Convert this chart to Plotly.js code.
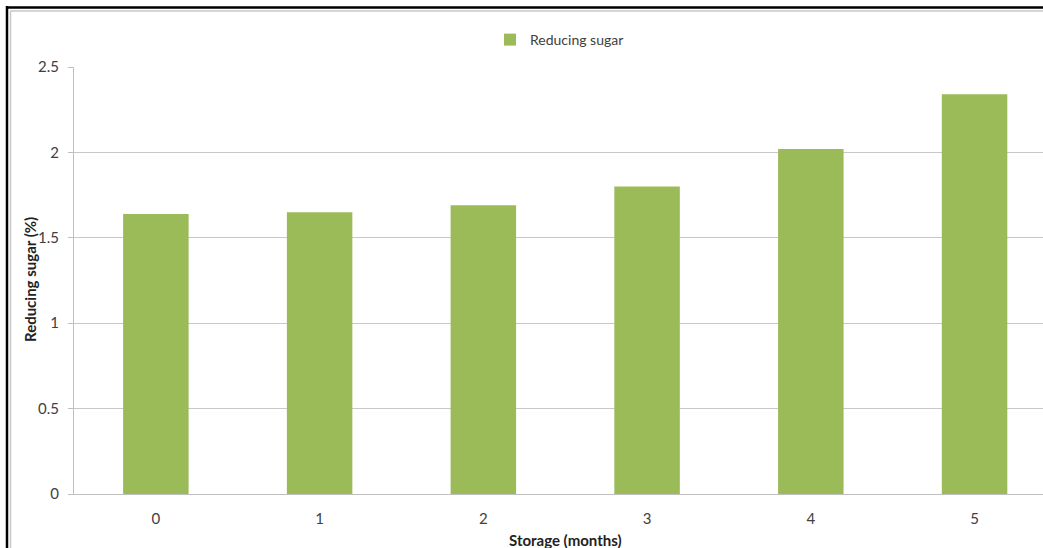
<!DOCTYPE html>
<html>
<head>
<meta charset="utf-8">
<script src="https://cdn.plot.ly/plotly-3.0.1.min.js"></script>
<style>
html,body{margin:0;padding:0;background:#fff;overflow:hidden;}
#chart{position:absolute;left:0;top:0;width:1043px;height:548px;overflow:hidden;}
</style>
</head>
<body>
<div id="chart"></div>
<script>
const months = ["0", "1", "2", "3", "4", "5"];
const reducingSugar = [1.64, 1.65, 1.69, 1.80, 2.02, 2.34];
const seriesName = "Reducing sugar";
const yTicks = [0, 0.5, 1, 1.5, 2, 2.5];
const yTickText = ["0", "0.5", "1", "1.5", "2", "2.5"];

const W = 1043, H = 548;
const mL = 74, mR = 0, mT = 67, mB = 54;
const pw = W - mL - mR, ph = H - mT - mB;
const px = p => (p - mL) / pw;
const py = p => (H - mB - p) / ph;

const font = "Lato, 'Open Sans', sans-serif";

const trace = {
  type: "bar",
  x: months.map(Number),
  y: reducingSugar,
  name: seriesName,
  width: 0.4,
  marker: {color: "#9BBB59"},
  showlegend: true,
  hoverinfo: "x+y"
};

const layout = {
  width: W, height: H,
  margin: {l: mL, r: mR, t: mT, b: mB, pad: 0},
  paper_bgcolor: "#fff",
  plot_bgcolor: "#fff",
  font: {family: font, size: 14, color: "#404040"},
  showlegend: true,
  legend: {
    orientation: "h",
    x: px(490), xanchor: "left",
    y: py(40), yanchor: "middle",
    font: {family: font, size: 14, color: "#404040"},
    bgcolor: "rgba(0,0,0,0)"
  },
  xaxis: {
    range: [-0.5, 5.418],
    tickvals: months.map(Number),
    ticktext: months,
    showgrid: false,
    zeroline: false,
    showline: true,
    linecolor: "#bfbfbf",
    linewidth: 1,
    ticks: "",
    ticklabelstandoff: 11,
    tickfont: {family: font, size: 15, color: "#404040"},
    fixedrange: true
  },
  yaxis: {
    range: [0, 2.5],
    tickvals: yTicks,
    ticktext: yTickText,
    showgrid: true,
    gridcolor: "#c8c8c8",
    gridwidth: 1,
    zeroline: false,
    showline: true,
    linecolor: "#bfbfbf",
    linewidth: 1,
    ticks: "outside",
    ticklen: 5,
    tickcolor: "#bfbfbf",
    ticklabelstandoff: 6,
    tickfont: {family: font, size: 15, color: "#404040"},
    fixedrange: true
  },
  annotations: [
    {
      text: "<b>Storage (months)</b>",
      xref: "x", x: 2.5,
      yref: "paper", y: py(540),
      xanchor: "center", yanchor: "middle",
      showarrow: false,
      font: {family: font, size: 15, color: "#222"}
    },
    {
      text: "<b>Reducing sugar (%)</b>",
      xref: "paper", x: px(30),
      yref: "paper", y: py(280),
      xanchor: "center", yanchor: "middle",
      textangle: -90,
      showarrow: false,
      font: {family: font, size: 15, color: "#222"}
    }
  ],
  shapes: [
    {type: "line", xref: "paper", yref: "paper", x0: px(6), x1: px(1043), y0: py(7.5), y1: py(7.5), line: {color: "#000", width: 2.5}},
    {type: "line", xref: "paper", yref: "paper", x0: px(7), x1: px(7), y0: py(6), y1: py(548), line: {color: "#000", width: 2.5}},
    {type: "line", xref: "paper", yref: "paper", x0: px(10), x1: px(1043), y0: py(11), y1: py(11), line: {color: "#c8c8c8", width: 1.5}},
    {type: "line", xref: "paper", yref: "paper", x0: px(10.5), x1: px(10.5), y0: py(11), y1: py(548), line: {color: "#c8c8c8", width: 1.5}}
  ]
};

Plotly.newPlot("chart", [trace], layout, {displayModeBar: false, staticPlot: true});
</script>
</body>
</html>
